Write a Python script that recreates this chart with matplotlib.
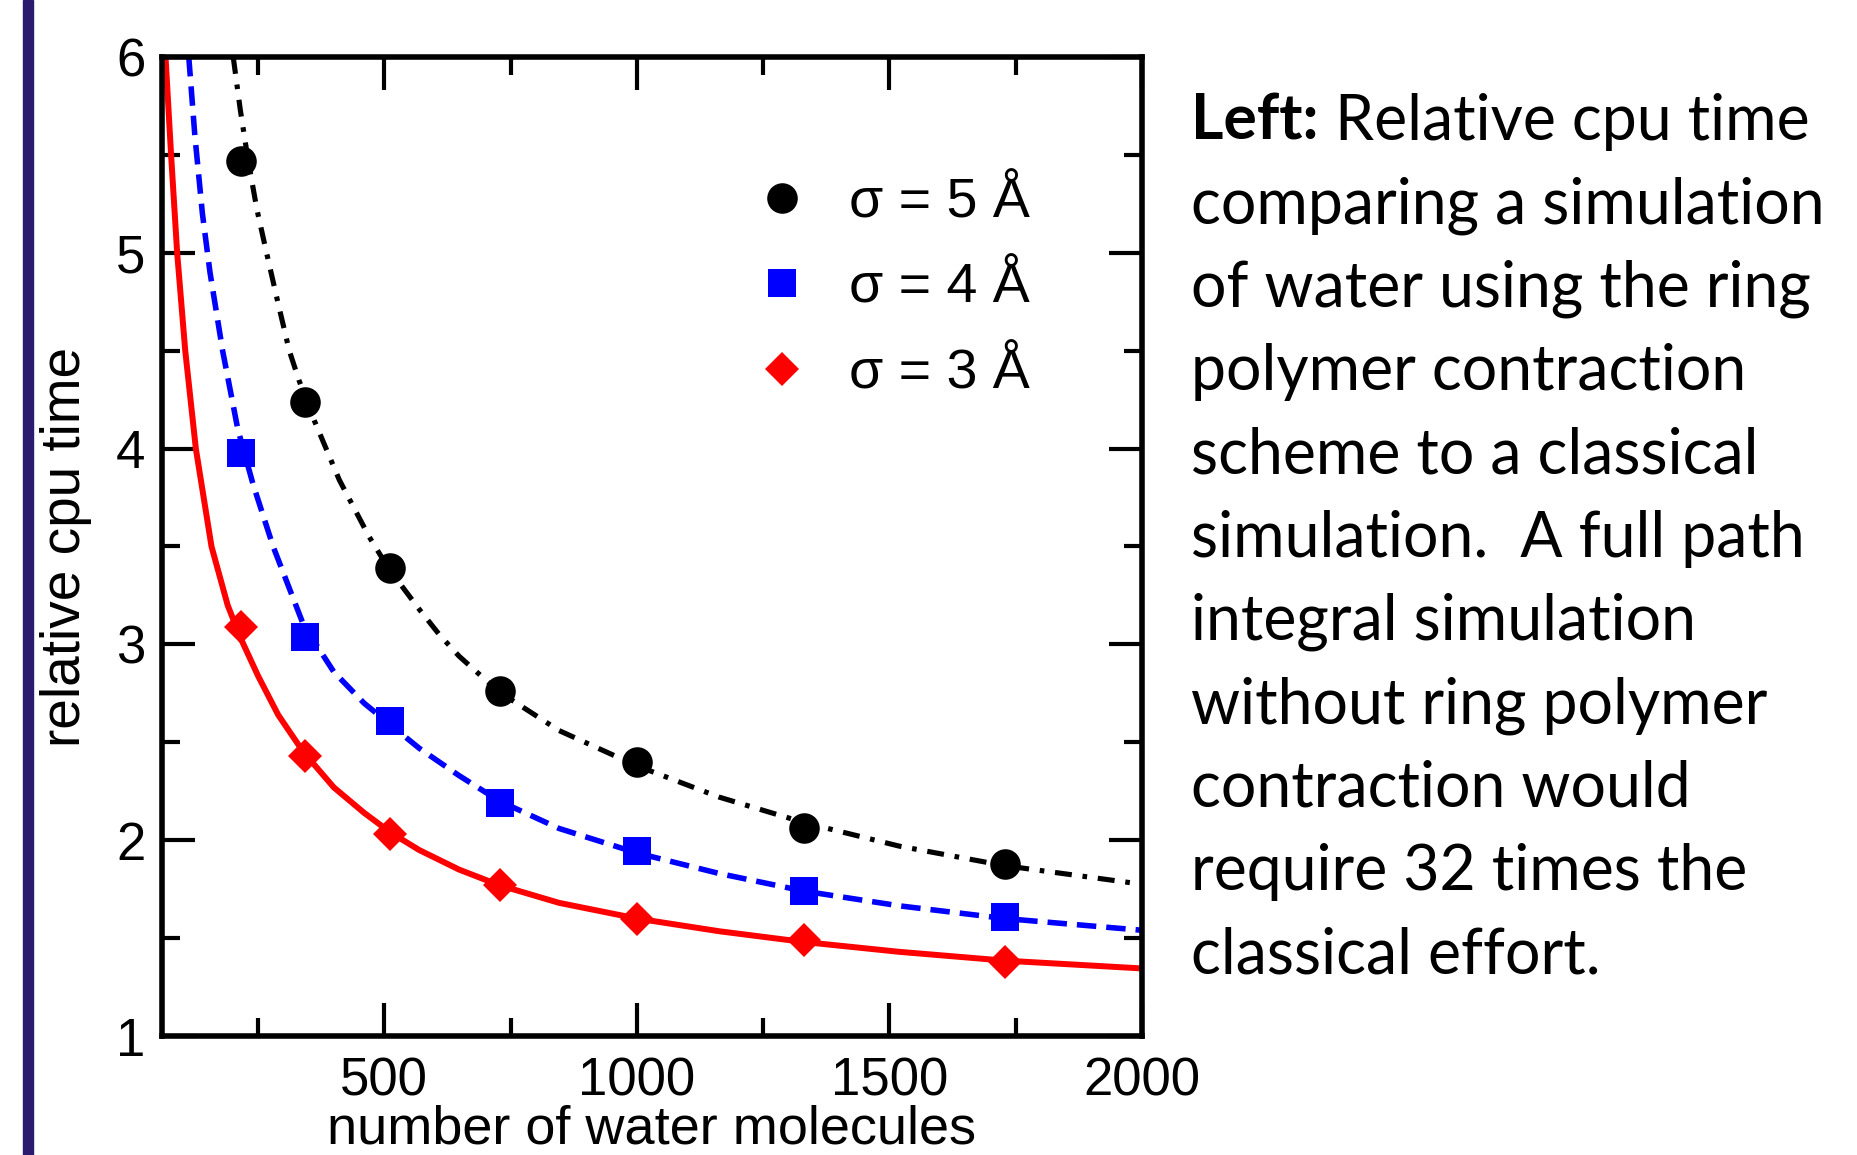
import matplotlib
matplotlib.use('Agg')
import matplotlib.pyplot as plt
from matplotlib.lines import Line2D
from matplotlib.patches import Rectangle
from matplotlib.ticker import MultipleLocator

# measured points: number of water molecules vs relative cpu time
n_water = [216, 343, 512, 729, 1000, 1331, 1728]
cpu_s5 = [5.47, 4.24, 3.39, 2.76, 2.40, 2.06, 1.88]
cpu_s4 = [3.98, 3.04, 2.61, 2.19, 1.945, 1.74, 1.61]
cpu_s3 = [3.09, 2.43, 2.03, 1.77, 1.60, 1.49, 1.38]

# fitted curves
fit5_x = [201, 215, 230, 248, 267, 290, 312, 331, 362, 411, 470, 508, 569, 609,
          648, 726, 846, 1000, 1163, 1331, 1519, 1728, 2000]
fit5_y = [6.0, 5.73, 5.48, 5.22, 5.0, 4.74, 4.5, 4.35, 4.14, 3.84, 3.55, 3.39, 3.18, 3.05,
          2.94, 2.76, 2.56, 2.38, 2.22, 2.09, 1.97, 1.87, 1.775]
fit4_x = [113, 125, 140, 155, 180, 210, 240, 280, 340, 400, 460, 512, 569, 648,
          728, 846, 1000, 1163, 1331, 1519, 1728, 2000]
fit4_y = [6.0, 5.6, 5.2, 4.9, 4.5, 4.1, 3.82, 3.5, 3.1, 2.86, 2.7, 2.59, 2.47, 2.33,
          2.2, 2.06, 1.935, 1.83, 1.74, 1.665, 1.60, 1.54]
fit3_x = [67, 78, 90, 106, 127, 158, 190, 216, 250, 290, 340, 400, 460, 512, 569,
          648, 728, 846, 1000, 1163, 1331, 1519, 1728, 2000]
fit3_y = [6.0, 5.5, 5.0, 4.5, 4.0, 3.5, 3.2, 3.03, 2.84, 2.64, 2.45, 2.27, 2.14, 2.04, 1.95,
          1.85, 1.77, 1.68, 1.60, 1.535, 1.48, 1.43, 1.385, 1.345]

labels = ['σ = 5 Å', 'σ = 4 Å', 'σ = 3 Å']

caption = [
    'comparing a simulation',
    'of water using the ring',
    'polymer contraction',
    'scheme to a classical',
    'simulation.  A full path',
    'integral simulation',
    'without ring polymer',
    'contraction would',
    'require 32 times the',
    'classical effort.',
]

plt.rcParams['font.family'] = ['Liberation Sans', 'DejaVu Sans']

W, H = 1858, 1155
fig = plt.figure(figsize=(W / 100, H / 100), dpi=100)
ax = fig.add_axes([162 / W, 1 - 1036 / H, 980 / W, 979 / H])

# navy bar on the left edge
fig.add_artist(Rectangle((23 / W, 0), 10 / W, 1, transform=fig.transFigure,
                         color='#2B1B6E', zorder=0))

ax.plot(fit3_x, fit3_y, color='red', lw=4.3, solid_capstyle='butt')
ax.plot(fit4_x, fit4_y, color='blue', lw=4.0, linestyle=(0, (3.5, 1.8)))
ax.plot(fit5_x, fit5_y, color='black', lw=3.7, linestyle=(0, (3.3, 2.1, 0.9, 2.1)))

ax.plot(n_water, cpu_s3, ls='none', marker='D', ms=17, color='red', mew=0)
ax.plot(n_water, cpu_s4, ls='none', marker='s', ms=19.5, color='blue', mew=0)
ax.plot(n_water, cpu_s5, ls='none', marker='o', ms=22, color='black', mew=0)

ax.set_xlim(60, 2000)
ax.set_ylim(1, 6)
ax.xaxis.set_major_locator(MultipleLocator(500))
ax.xaxis.set_minor_locator(MultipleLocator(250))
ax.yaxis.set_major_locator(MultipleLocator(1))
ax.yaxis.set_minor_locator(MultipleLocator(0.5))

for s in ax.spines.values():
    s.set_linewidth(4)
ax.tick_params(which='both', direction='in', top=True, right=True, width=3)
ax.tick_params(which='major', length=24, labelsize=38)
ax.tick_params(which='minor', length=13)
ax.tick_params(axis='x', which='major', pad=15)
ax.tick_params(axis='y', which='major', pad=12)

ax.set_xlabel('number of water molecules', fontsize=39, va='baseline')
ax.xaxis.set_label_coords(0.5, -(1143 - 1036) / 979)
ax.set_ylabel('relative cpu time', fontsize=39.5)
ax.yaxis.set_label_coords(-0.071, 0.5)

handles = [
    Line2D([], [], ls='none', marker='o', ms=22, color='black', mew=0),
    Line2D([], [], ls='none', marker='s', ms=19.5, color='blue', mew=0),
    Line2D([], [], ls='none', marker='D', ms=17, color='red', mew=0),
]
ax.legend(handles, labels, loc='upper left', bbox_to_anchor=(0.604, 0.877),
          frameon=False, fontsize=40, borderpad=0, borderaxespad=0,
          handlelength=1.0, handletextpad=0.72, labelspacing=0.6)

# caption on the right
tx = 1191 / W
fs = 45
bold = fig.text(tx, 1 - 140 / H, 'Left:', fontsize=fs, fontweight='bold',
                family=['Lato', 'DejaVu Sans'], va='baseline')
fig.canvas.draw()
bb = bold.get_window_extent(fig.canvas.get_renderer())
fig.text(bb.x1 / W, 1 - 140 / H, ' Relative cpu time', fontsize=fs,
         family=['Lato', 'DejaVu Sans'], va='baseline')
for i, line in enumerate(caption, start=1):
    fig.text(tx, 1 - (140 + i * 83.3) / H, line, fontsize=fs,
             family=['Lato', 'DejaVu Sans'], va='baseline')

fig.savefig('out.png', dpi=100, facecolor='white')
